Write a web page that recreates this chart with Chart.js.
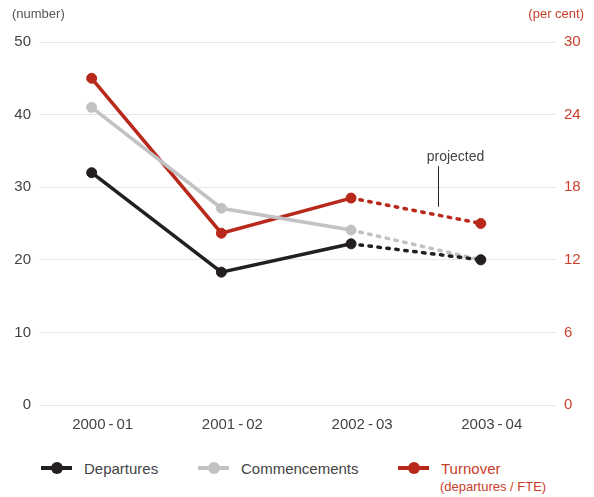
<!DOCTYPE html>
<html>
<head>
<meta charset="utf-8">
<script src="https://cdn.jsdelivr.net/npm/chart.js@4"></script>
<style>
  html, body { margin: 0; padding: 0; background: #fff; }
  #wrap { position: relative; width: 594px; height: 497px; font-family: "Liberation Sans", Arial, sans-serif; }
  #chart { position: absolute; left: 0; top: 0; }
  .key { position: absolute; top: 460px; height: 16px; display: flex; align-items: center; font-size: 15px; color: #444; white-space: nowrap; }
  .key .mark { position: relative; width: 31px; height: 4px; margin-right: 12px; }
  .key .mark i { position: absolute; left: 10px; top: -4px; width: 12px; height: 12px; border-radius: 50%; background: inherit; }
  .sub { position: absolute; top: 479px; left: 440px; font-size: 13px; color: #c8402c; }
</style>
</head>
<body>
<div id="wrap">
  <canvas id="chart" width="594" height="450"></canvas>
  <div class="key" style="left:41px"><span class="mark" style="background:#231f20"><i></i></span>Departures</div>
  <div class="key" style="left:198px"><span class="mark" style="background:#c2c2c4"><i></i></span>Commencements</div>
  <div class="key" style="left:398px;color:#c8402c"><span class="mark" style="background:#b8291b"><i></i></span>Turnover</div>
  <div class="sub">(departures / FTE)</div>
</div>
<script>
const years = ['2000\u2009-\u200901', '2001\u2009-\u200902', '2002\u2009-\u200903', '2003\u2009-\u200904'];
const departures = [32, 18.3, 22.2, 20];
const commencements = [41, 27.1, 24.1, 20];
const turnover = [27, 14.2, 17.1, 15];   // per cent, right axis
const numberTicks = [0, 10, 20, 30, 40, 50];
const percentTicks = [0, 6, 12, 18, 24, 30];
const firstProjected = 2;               // segment from this index on is projected

// where the "projected" callout sits, in axis units
const note = { text: 'projected', x: 2.67, yTop: 32.9, yBottom: 27.3 };

const RED = '#b8291b', GREY = '#c2c2c4', BLACK = '#231f20';
const FONT = '"Liberation Sans", Arial, sans-serif';

const toPoints = arr => arr.map((v, i) => ({ x: i, y: v }));
const dashed = ctx => ctx.p0DataIndex >= firstProjected ? [2.5, 6.5] : undefined;

function series(label, data, color, axis) {
    return {
        label: label,
        data: toPoints(data),
        yAxisID: axis,
        borderColor: color,
        backgroundColor: color,
        borderWidth: 3.5,
        borderCapStyle: 'round',
        pointRadius: 5,
        pointBorderWidth: 1,
        pointBackgroundColor: color,
        pointBorderColor: color,
        segment: { borderDash: dashed },
        tension: 0
    };
}

const extras = {
    id: 'extras',
    afterDraw(chart) {
        const ctx = chart.ctx;
        const { x, y } = chart.scales;
        ctx.save();
        ctx.font = '13px ' + FONT;
        ctx.textBaseline = 'middle';
        ctx.fillStyle = '#555';
        ctx.textAlign = 'left';
        ctx.fillText('(number)', 12, 14);
        ctx.fillStyle = '#c8402c';
        ctx.textAlign = 'right';
        ctx.fillText('(per cent)', 584, 14);

        const px = Math.round(x.getPixelForValue(note.x)) + 0.5;
        const top = y.getPixelForValue(note.yTop);
        const bottom = y.getPixelForValue(note.yBottom);
        ctx.strokeStyle = '#222';
        ctx.lineWidth = 1;
        ctx.beginPath();
        ctx.moveTo(px, top);
        ctx.lineTo(px, bottom);
        ctx.stroke();
        ctx.font = '14px ' + FONT;
        ctx.fillStyle = '#444';
        ctx.textAlign = 'center';
        ctx.textBaseline = 'bottom';
        ctx.fillText(note.text, px + 17, top - 2);
        ctx.restore();
    }
};

new Chart(document.getElementById('chart'), {
    type: 'line',
    data: {
        datasets: [
            series('Departures', departures, BLACK, 'y'),
            series('Commencements', commencements, GREY, 'y'),
            series('Turnover', turnover, RED, 'y1')
        ]
    },
    options: {
        responsive: false,
        animation: false,
        devicePixelRatio: 1,
        layout: { padding: { top: 42, left: 0, right: 0, bottom: 0 } },
        plugins: { legend: { display: false }, tooltip: { enabled: false } },
        scales: {
            x: {
                type: 'linear',
                min: -0.406,
                max: 3.58,
                afterBuildTicks: s => { s.ticks = years.map((_, i) => ({ value: i })); },
                afterFit: s => { s.height = 45; },
                grid: { display: false, drawTicks: false },
                border: { display: false },
                ticks: {
                    padding: 11,
                    labelOffset: 11,
                    color: '#444',
                    font: { family: FONT, size: 15 },
                    callback: v => years[v]
                }
            },
            y: {
                position: 'left',
                min: 0,
                max: 50,
                afterBuildTicks: s => { s.ticks = numberTicks.map(v => ({ value: v })); },
                afterFit: s => { s.width = 39; },
                grid: { color: '#e6e6e6', lineWidth: 1, drawTicks: false },
                border: { display: false },
                ticks: { padding: 8, color: '#444', font: { family: FONT, size: 15 } }
            },
            y1: {
                position: 'right',
                min: 0,
                max: 30,
                afterBuildTicks: s => { s.ticks = percentTicks.map(v => ({ value: v })); },
                afterFit: s => { s.width = 38; },
                grid: { display: false, drawTicks: false },
                border: { display: false },
                ticks: { padding: 8, color: '#c8402c', font: { family: FONT, size: 15 } }
            }
        }
    },
    plugins: [extras]
});
</script>
</body>
</html>
